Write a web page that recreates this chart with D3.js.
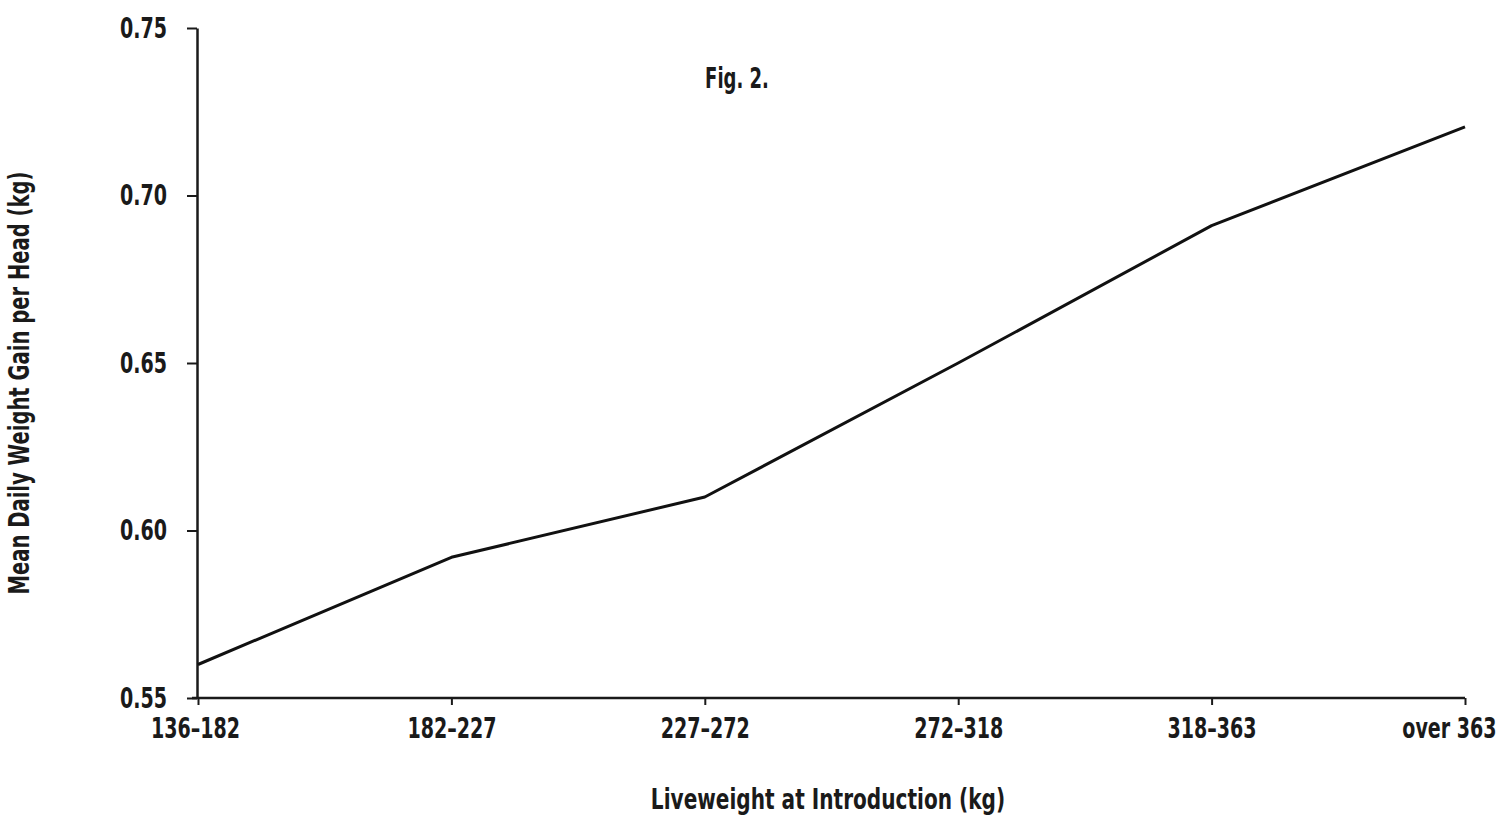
<!DOCTYPE html>
<html>
<head>
<meta charset="utf-8">
<script src="https://cdn.jsdelivr.net/npm/d3@7"></script>
<style>
  body { margin: 0; background: #fff; }
  svg text { font-family: "DejaVu Sans Condensed", "DejaVu Sans", sans-serif; fill: #1a1a1a; font-weight: bold; }
</style>
</head>
<body>
<div id="chart"></div>
<script>
// liveweight classes at introduction (kg)
var categories = ["136\u2013182", "182\u2013227", "227\u2013272", "272\u2013318", "318\u2013363", "over 363"];
// mean daily weight gain per head (kg)
var gains = [0.560, 0.592, 0.610, 0.650, 0.691, 0.7205];
var yTicks = [0.55, 0.60, 0.65, 0.70, 0.75];

var width = 1506, height = 820;
var fontSize = 29;
var svg = d3.select("#chart").append("svg")
    .attr("width", width)
    .attr("height", height);

// the printed font is a narrow gothic, so squeeze the text a bit
function narrow(sel, f) {
    sel.each(function() {
        var w = this.getComputedTextLength();
        d3.select(this).attr("textLength", w * f).attr("lengthAdjust", "spacingAndGlyphs");
    });
}

var x = d3.scalePoint()
    .domain(categories)
    .range([198, 1465]);

var y = d3.scaleLinear()
    .domain([0.55, 0.75])
    .range([698, 28]);

// y axis
var yAxis = svg.append("g")
    .attr("transform", "translate(197,0)")
    .call(d3.axisLeft(y).tickValues(yTicks).tickFormat(d3.format(".2f")).tickSize(10).tickSizeOuter(0));
yAxis.select(".domain").attr("stroke", "#1a1a1a").attr("stroke-width", 2.5);
yAxis.selectAll(".tick line").attr("stroke", "#1a1a1a").attr("stroke-width", 2);
yAxis.selectAll(".tick text")
    .attr("x", -30)
    .attr("font-size", fontSize)
    .call(narrow, 0.73);

// x axis
var xAxis = svg.append("g")
    .attr("transform", "translate(0,698)")
    .call(d3.axisBottom(x).tickSize(7).tickSizeOuter(0));
xAxis.select(".domain").attr("stroke", "#1a1a1a").attr("stroke-width", 2.5)
    .attr("d", "M" + (x.range()[0] - 6) + ",0H" + x.range()[1]);
xAxis.selectAll(".tick line").attr("stroke", "#1a1a1a").attr("stroke-width", 2);
var last = categories.length - 1;
xAxis.selectAll(".tick text")
    .attr("y", 19)
    .attr("font-size", fontSize)
    .attr("text-anchor", function(d, i) { return i === last ? "end" : "middle"; })
    .attr("dx", function(d, i) { return i === last ? 31 : (i === 0 ? -3 : 0); })
    .call(narrow, 0.73);

// the line
var line = d3.line()
    .x(function(d, i) { return x(categories[i]); })
    .y(function(d) { return y(d); });

svg.append("path")
    .datum(gains)
    .attr("d", line)
    .attr("fill", "none")
    .attr("stroke", "#111")
    .attr("stroke-width", 3)
    .attr("stroke-linejoin", "round");

// labels
svg.append("text")
    .attr("x", 737)
    .attr("y", 88)
    .attr("text-anchor", "middle")
    .attr("font-size", fontSize)
    .text("Fig. 2.")
    .call(narrow, 0.69);

svg.append("text")
    .attr("x", 828)
    .attr("y", 809)
    .attr("text-anchor", "middle")
    .attr("font-size", fontSize)
    .text("Liveweight at Introduction (kg)")
    .call(narrow, 0.77);

svg.append("text")
    .attr("transform", "translate(29,383) rotate(-90)")
    .attr("text-anchor", "middle")
    .attr("font-size", fontSize)
    .text("Mean Daily Weight Gain per Head (kg)")
    .call(narrow, 0.75);
</script>
</body>
</html>
